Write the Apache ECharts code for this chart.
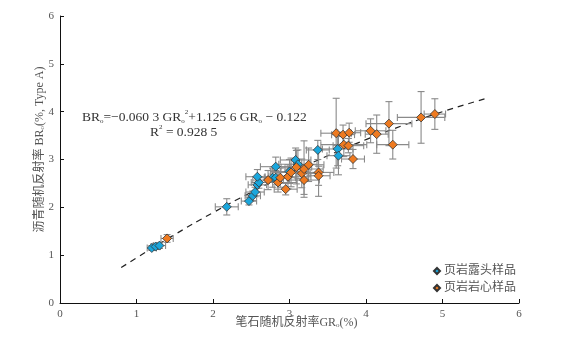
<!DOCTYPE html>
<html>
<head>
<meta charset="utf-8">
<script src="https://cdn.jsdelivr.net/npm/echarts@6/dist/echarts.min.js"></script>
<style>html,body{margin:0;padding:0;background:#fff}#c{width:577px;height:339px}</style>
</head>
<body>
<div id="c"></div>
<script>
// 页岩露头样品 (outcrop)
const outX    = [1.20,1.25,1.30,2.18,2.47,2.52,2.55,2.58,2.60,2.58,2.78,2.82,2.82,3.00,3.08,3.11,3.37,3.63,3.64];
const outY    = [1.15,1.18,1.20,2.01,2.13,2.24,2.32,2.47,2.52,2.64,2.62,2.62,2.85,2.75,2.99,2.90,3.20,3.22,3.08];
const outXErr = [0.06,0.06,0.08,0.15,0.10,0.10,0.12,0.12,0.10,0.15,0.20,0.15,0.20,0.25,0.20,0.25,0.15,0.20,0.15];
const outYErr = [0.05,0.06,0.06,0.17,0.08,0.10,0.10,0.15,0.12,0.15,0.20,0.15,0.20,0.25,0.25,0.30,0.20,0.35,0.40];
// 页岩岩心样品 (core)
const coreX    = [1.40,2.72,2.85,2.88,2.95,2.98,3.02,3.09,3.16,3.19,3.19,3.25,3.38,3.38,3.61,3.70,3.78,3.71,3.77,3.83,4.06,4.14,4.30,4.72,4.90,4.35];
const coreY    = [1.35,2.57,2.52,2.62,2.38,2.64,2.73,2.84,2.71,2.80,2.57,2.89,2.73,2.66,3.55,3.52,3.56,3.31,3.29,3.01,3.60,3.53,3.75,3.88,3.95,3.31];
const coreXErr = [0.08,0.20,0.25,0.20,0.15,0.30,0.25,0.20,0.20,0.25,0.20,0.20,0.20,0.15,0.20,0.15,0.15,0.30,0.20,0.15,0.20,0.15,0.30,0.31,0.14,0.21];
const coreYErr = [0.08,0.20,0.20,0.20,0.12,0.25,0.30,0.35,0.30,0.59,0.30,0.35,0.50,0.20,0.73,0.20,0.20,0.25,0.15,0.20,0.25,0.40,0.46,0.54,0.32,0.30];
// fitted curve BRo = -0.0603 GRo^2 + 1.1256 GRo - 0.122 (values at listed x)
const fitX = [0.8,1.0,1.5,2.0,2.5,3.0,3.5,4.0,4.5,5.0,5.6];
const fitY = [0.740,0.943,1.431,1.888,2.315,2.712,3.079,3.416,3.722,3.999,4.290];
const xTicks = [0,1,2,3,4,5,6];
const yTicks = [0,1,2,3,4,5,6];

const SERIF = '"Liberation Serif","Noto Sans CJK SC",serif';
const chart = echarts.init(document.getElementById('c'));

function errItem(params, api) {
  const x = api.value(0), y = api.value(1), xe = api.value(2), ye = api.value(3);
  const l = api.coord([x - xe, y]), r = api.coord([x + xe, y]);
  const t = api.coord([x, y + ye]), b = api.coord([x, y - ye]);
  const cap = 3.5;
  const st = {stroke: '#8a8a8a', lineWidth: 1.1};
  return {type: 'group', children: [
    {type: 'line', shape: {x1: l[0], y1: l[1], x2: r[0], y2: r[1]}, style: st},
    {type: 'line', shape: {x1: l[0], y1: l[1] - cap, x2: l[0], y2: l[1] + cap}, style: st},
    {type: 'line', shape: {x1: r[0], y1: r[1] - cap, x2: r[0], y2: r[1] + cap}, style: st},
    {type: 'line', shape: {x1: t[0], y1: t[1], x2: b[0], y2: b[1]}, style: st},
    {type: 'line', shape: {x1: t[0] - cap, y1: t[1], x2: t[0] + cap, y2: t[1]}, style: st},
    {type: 'line', shape: {x1: b[0] - cap, y1: b[1], x2: b[0] + cap, y2: b[1]}, style: st}
  ]};
}
const outErr = outX.map((v, i) => [v, outY[i], outXErr[i], outYErr[i]]);
const coreErr = coreX.map((v, i) => [v, coreY[i], coreXErr[i], coreYErr[i]]);

const axisCommon = {
  min: 0, max: 6, interval: 1,
  axisLine: {show: true, lineStyle: {color: '#111', width: 1}},
  axisTick: {show: true, inside: true, length: 4, lineStyle: {color: '#111'}},
  axisLabel: {color: '#555', fontFamily: SERIF, fontSize: 11, margin: 6},
  splitLine: {show: false},
  nameLocation: 'middle',
  nameMoveOverlap: false
};

chart.setOption({
  animation: false,
  backgroundColor: '#fff',
  grid: {left: 60, right: 58, top: 16, bottom: 36},
  xAxis: Object.assign({}, axisCommon, {
    type: 'value', name: '笔石随机反射率GR\u2092(%)', nameGap: 14,
    nameTextStyle: {color: '#555', fontFamily: SERIF, fontSize: 12, padding: [0, 0, 0, 14]},
    axisLabel: Object.assign({}, axisCommon.axisLabel, {formatter: v => xTicks.includes(v) ? String(v) : ''})
  }),
  yAxis: Object.assign({}, axisCommon, {
    type: 'value', name: '沥青随机反射率 BR\u2092(%, Type A)', nameGap: 14,
    nameTextStyle: {color: '#555', fontFamily: SERIF, fontSize: 12, padding: [0, 0, 0, 20]},
    axisLabel: Object.assign({}, axisCommon.axisLabel, {formatter: v => yTicks.includes(v) ? String(v) : ''})
  }),
  legend: {
    orient: 'vertical', left: 428, top: 260, itemGap: 5,
    itemWidth: 6, itemHeight: 6, icon: 'diamond',
    textStyle: {color: '#555', fontSize: 12, fontFamily: SERIF, padding: [0, 0, 0, -1]},
    data: ['页岩露头样品', '页岩岩心样品']
  },
  graphic: [
    {type: 'text', left: 82, top: 109, z: 10, style: {
      text: '{a|BR}{s|o}{a|=−0.060 3 GR}{s|o}{p|2}{a|+1.125 6 GR}{s|o}{a| − 0.122}',
      rich: {
        a: {fontFamily: SERIF, fontSize: 13.5, fill: '#333', lineHeight: 16},
        s: {fontFamily: SERIF, fontSize: 7, fill: '#333', verticalAlign: 'bottom', lineHeight: 16},
        p: {fontFamily: SERIF, fontSize: 7, fill: '#333', verticalAlign: 'top', lineHeight: 16}
      }
    }},
    {type: 'text', left: 150, top: 124, z: 10, style: {
      text: '{a|R}{p|2}{a| = 0.928 5}',
      rich: {
        a: {fontFamily: SERIF, fontSize: 13.5, fill: '#333', lineHeight: 16},
        p: {fontFamily: SERIF, fontSize: 7, fill: '#333', verticalAlign: 'top', lineHeight: 16}
      }
    }}
  ],
  series: [
    {type: 'line', data: fitX.map((v, i) => [v, fitY[i]]), smooth: true, showSymbol: false, silent: true,
     lineStyle: {color: '#222', width: 1.2, type: [6, 5]}, z: 1},
    {type: 'custom', name: 'err1', renderItem: errItem, data: outErr, z: 2, silent: true},
    {type: 'custom', name: 'err2', renderItem: errItem, data: coreErr, z: 2, silent: true},
    {type: 'scatter', name: '页岩露头样品', data: outX.map((v, i) => [v, outY[i]]), symbol: 'diamond', symbolSize: 9,
     itemStyle: {color: '#1aa6dc', borderColor: '#333', borderWidth: 0.8, opacity: 1}, z: 3},
    {type: 'scatter', name: '页岩岩心样品', data: coreX.map((v, i) => [v, coreY[i]]), symbol: 'diamond', symbolSize: 9,
     itemStyle: {color: '#ee7a20', borderColor: '#333', borderWidth: 0.8, opacity: 1}, z: 4}
  ]
});
</script>
</body>
</html>
